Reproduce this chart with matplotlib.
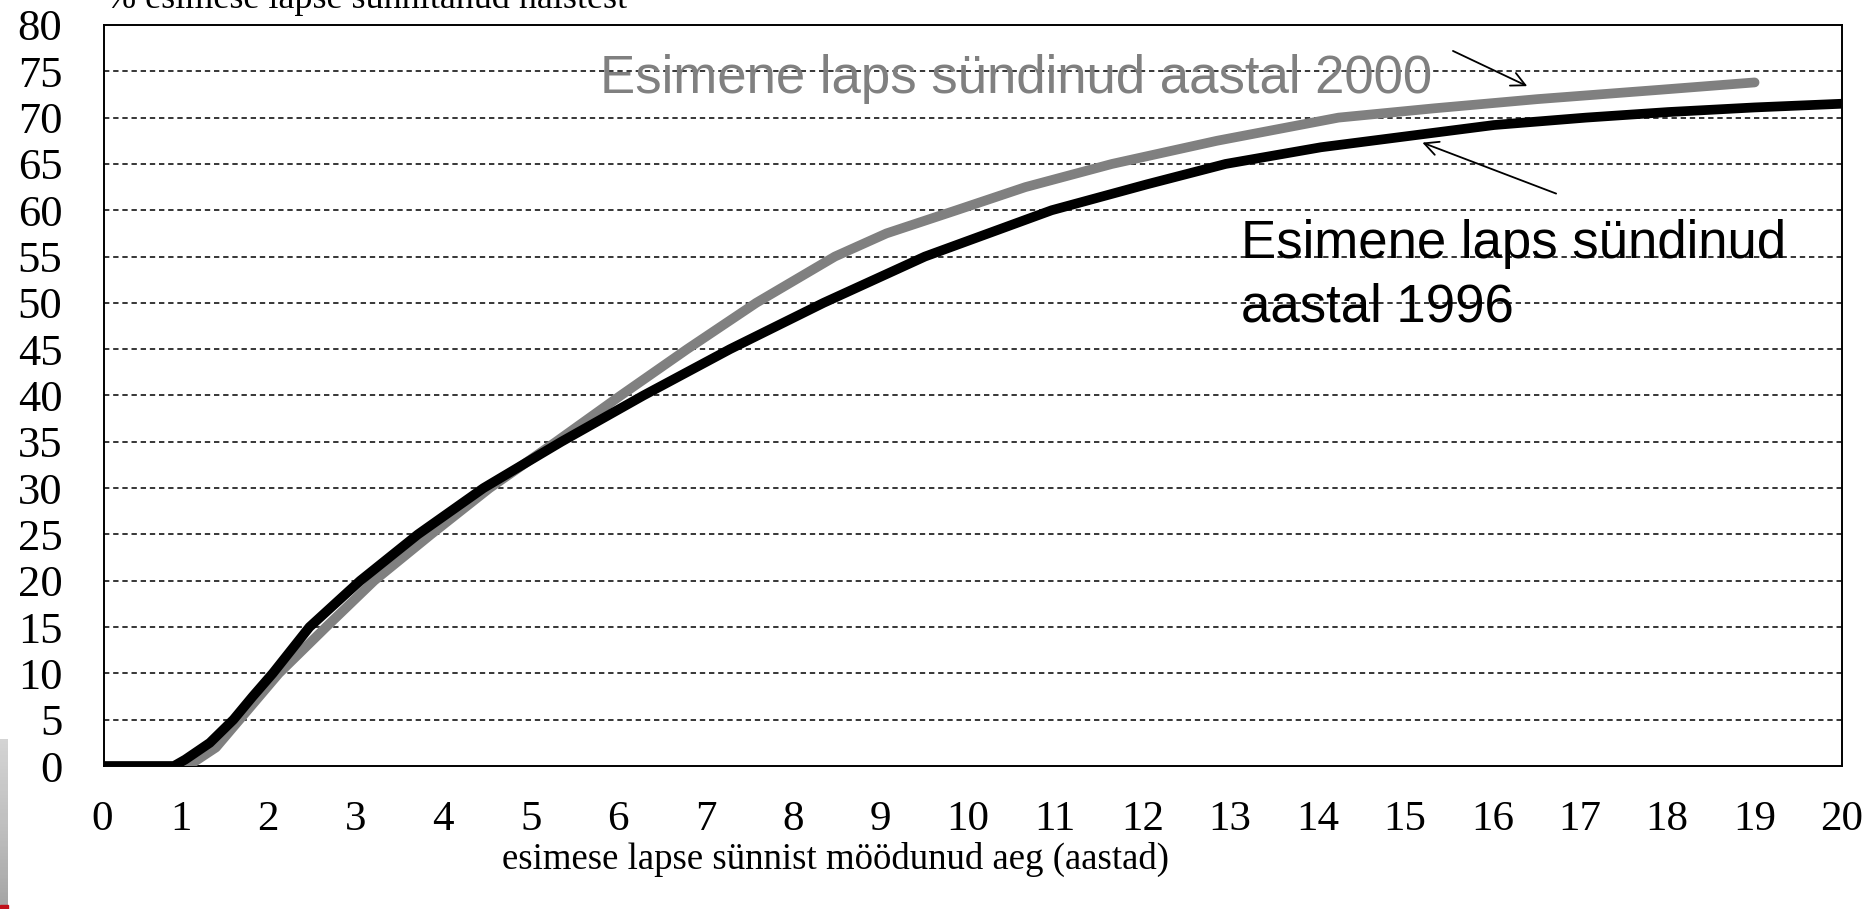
import numpy as np
import matplotlib
matplotlib.use("Agg")
import matplotlib.pyplot as plt

# ---- data ----
t_1996 = [0.0, 0.92, 1.05, 1.33, 1.60, 1.82, 2.05, 2.47, 3.05, 3.71, 4.46, 5.35, 6.29, 7.28,
          8.35, 9.51, 10.96, 12.05, 12.95, 14.04, 15.03, 16.02, 17.07, 18.01, 19.0, 20.0]
v_1996 = [0, 0, 0.7, 2.5, 5, 7.5, 10, 15, 20, 25, 30, 35, 40, 45,
          50, 55, 60, 62.8, 65, 66.8, 68, 69.2, 70, 70.6, 71.1, 71.5]

t_2000 = [1.0, 1.08, 1.40, 1.67, 2.12, 2.66, 3.21, 3.86, 4.53, 5.29, 6.03, 6.79, 7.58,
          8.48, 9.07, 9.87, 10.66, 11.65, 12.85, 14.24, 15.33, 16.52, 17.91, 19.0]
v_2000 = [0, 0, 2, 5, 10, 15, 20, 25, 30, 35, 40, 45, 50,
          55, 57.5, 60, 62.5, 65, 67.5, 70, 71, 72, 73, 73.8]

x_ticks = list(range(0, 21))
y_ticks = list(range(0, 81, 5))

label_2000 = "Esimene laps sündinud aastal 2000"
label_1996_l1 = "Esimene laps sündinud"
label_1996_l2 = "aastal 1996"
y_title = "% esimese lapse sünnitanud naistest"
x_title = "esimese lapse sünnist möödunud aeg (aastad)"

serif = ["Liberation Serif", "DejaVu Serif"]
sans = ["Liberation Sans", "DejaVu Sans"]

W, H = 1870, 909
fig = plt.figure(figsize=(W / 100, H / 100), dpi=100)
ax = fig.add_axes([104 / W, 1 - 766 / H, (1842 - 104) / W, (766 - 25) / H])

ax.set_xlim(0.12, 20)
ax.set_ylim(0, 80)
ax.set_yticks(y_ticks)
ax.set_yticklabels([str(v) for v in y_ticks], fontfamily=serif, fontsize=32)
ax.set_xticks(x_ticks[1:])
ax.set_xticklabels([str(v) for v in x_ticks[1:]], fontfamily=serif, fontsize=31)
ax.tick_params(axis='both', length=0)
ax.tick_params(axis='y', pad=30)
xpad = 25
ax.tick_params(axis='x', pad=xpad)
# the "0" label sits just inside the axis start
ax.text(x_ticks[0] + 0.1, -(xpad * 100 / 72) / 741, str(x_ticks[0]),
        transform=ax.get_xaxis_transform(), fontfamily=serif, fontsize=31,
        ha='center', va='top')

for v in y_ticks[1:-1]:
    ax.axhline(v, color='black', lw=1.1, linestyle=(0, (3.5, 2.5)), zorder=1)

for s in ax.spines.values():
    s.set_linewidth(1.4)
    s.set_color('black')

ax.plot(t_2000, v_2000, color='#808080', lw=7, solid_capstyle='round', zorder=3)
ax.plot(t_1996, v_1996, color='black', lw=7, solid_capstyle='butt', zorder=4)

ax.text(5.79, 72.7, label_2000, color='#808080', fontfamily=sans, fontsize=38,
        va='baseline', ha='left', zorder=2)
ax.text(13.12, 54.8, label_1996_l1, color='black', fontfamily=sans, fontsize=38,
        va='baseline', ha='left', zorder=5)
ax.text(13.12, 48.0, label_1996_l2, color='black', fontfamily=sans, fontsize=38,
        va='baseline', ha='left', zorder=5)

ax.annotate("", xy=(16.40, 73.4), xytext=(15.55, 77.2),
            arrowprops=dict(arrowstyle='->', color='black', lw=1.3,
                            mutation_scale=25, shrinkA=0, shrinkB=0), zorder=6)
ax.annotate("", xy=(15.2, 67.3), xytext=(16.73, 61.8),
            arrowprops=dict(arrowstyle='->', color='black', lw=1.3,
                            mutation_scale=25, shrinkA=0, shrinkB=0), zorder=6)

fig.text(106 / W, 1 - 8 / H, y_title, fontfamily=serif, fontsize=26,
         va='baseline', ha='left')
fig.text(835 / W, 1 - 859 / H, x_title, fontfamily=serif, fontsize=26.5,
         va='center', ha='center')

# slide edge artefact at lower left
grad = np.linspace(0.0, 1.0, 100).reshape(-1, 1)
gax = fig.add_axes([0, 0, 8 / W, 170 / H])
gax.imshow(grad, aspect='auto', cmap='Greys', vmin=-1.5, vmax=4, origin='upper')
gax.axis('off')
fig.patches.append(plt.Rectangle((0, 0), 8 / W, 4 / H, transform=fig.transFigure,
                                 color='#c0101a', zorder=10))

fig.savefig("out.png", dpi=100)
